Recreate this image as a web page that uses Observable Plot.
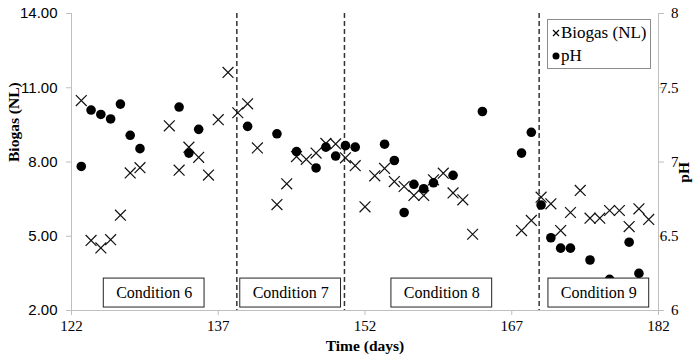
<!DOCTYPE html>
<html>
<head>
<meta charset="utf-8">
<script src="https://cdn.jsdelivr.net/npm/d3@7"></script>
<script src="https://cdn.jsdelivr.net/npm/@observablehq/plot@0.6"></script>
<style>
  body { margin: 0; background: #fff; }
  #wrap { position: relative; width: 694px; height: 357px; }
  .legend {
    position: absolute; left: 547px; top: 19px; width: 102px; height: 48px;
    border: 1px solid #8c8c8c; background: #fff;
    font-family: "Liberation Serif", "Times New Roman", serif; font-size: 17px; color: #000;
  }
  .legend .row { position: absolute; left: 4px; height: 18px; display: flex; align-items: center; gap: 1px; white-space: nowrap; }
</style>
</head>
<body>
<div id="wrap">
  <div class="legend">
    <div class="row" style="top:4px"><svg width="8" height="8"><path d="M1,1L7,7M7,1L1,7" stroke="#000" stroke-width="1.2" fill="none"/></svg><span>Biogas (NL)</span></div>
    <div class="row" style="top:27px"><svg width="8" height="8"><circle cx="4" cy="4" r="3.5" fill="#000"/></svg><span>pH</span></div>
  </div>
</div>
<script>
// Daily biogas volume (NL)
const biogasDays = [123,124,125,126,127,128,129,132,133,134,135,136,137,138,139,140,141,143,144,145,146,147,148,149,150,151,152,153,154,155,156,157,158,159,160,161,162,163,168,169,170,171,172,173,174,175,176,177,178,179,180,181];
const biogasNL   = [10.48,4.83,4.53,4.86,5.85,7.56,7.77,9.46,7.67,8.60,8.19,7.47,9.71,11.62,9.99,10.35,8.57,6.28,7.12,8.22,8.11,8.36,8.75,8.73,8.17,7.85,6.19,7.44,7.74,7.21,7.01,6.65,6.65,7.28,7.55,6.75,6.47,5.08,5.23,5.64,6.58,6.31,5.23,5.96,6.85,5.73,5.73,6.04,6.04,5.39,6.11,5.68];

// Reactor pH
const phDays   = [123,124,125,126,127,128,129,133,134,135,140,143,145,147,148,149,150,151,154,155,156,157,158,159,161,164,168,169,170,171,172,173,175,177,179,180];
const phValues = [6.97,7.35,7.32,7.29,7.39,7.18,7.09,7.37,7.06,7.22,7.24,7.19,7.07,6.96,7.10,7.04,7.11,7.10,7.12,7.01,6.66,6.85,6.82,6.86,6.91,7.34,7.06,7.20,6.71,6.49,6.42,6.42,6.34,6.21,6.46,6.25];

// Operating conditions and the days they change
const conditionNames  = ["Condition 6", "Condition 7", "Condition 8", "Condition 9"];
const conditionBreaks = [138.9, 149.9, 169.8];

const dayTicks    = [122, 137, 152, 167, 182];
const biogasTicks = [2, 5, 8, 11, 14];

// pH (6–8) is drawn on the biogas scale (2–14)
const phToY = ph => 2 + (ph - 6) * 6;
const yToPh = y => 6 + (y - 2) / 6;

const bounds = [122, ...conditionBreaks, 182];
const conditions = conditionNames.map((name, i) => ({ name, mid: (bounds[i] + bounds[i + 1]) / 2 }));
const biogas = biogasDays.map((day, i) => ({ day, value: biogasNL[i] }));
const ph = phDays.map((day, i) => ({ day, value: phValues[i] }));

const serif = "'Liberation Serif', 'Times New Roman', serif";
const sans = "'Liberation Sans', Arial, sans-serif";
const axisGray = "#bfbfbf";

const chart = Plot.plot({
  width: 694,
  height: 357,
  marginLeft: 71,
  marginRight: 36,
  marginTop: 13,
  marginBottom: 47,
  x: { domain: [122, 182] },
  y: { domain: [2, 14] },
  style: { background: "white", color: "black", overflow: "visible" },
  marks: [
    Plot.ruleX([122, 182], { stroke: axisGray }),
    Plot.ruleY([2], { stroke: axisGray }),
    Plot.axisY({ anchor: "left", ticks: biogasTicks, tickFormat: d3.format(".2f"), tickSize: 5, tickPadding: 9,
      stroke: axisGray, fill: "black", fontFamily: sans, fontSize: 15, label: null }),
    Plot.axisY({ anchor: "right", ticks: biogasTicks, tickFormat: d => d3.format("~g")(yToPh(d)), tickSize: 5, tickPadding: 15,
      textAnchor: "end", stroke: axisGray, fill: "black", fontFamily: serif, fontSize: 15, label: null }),
    Plot.axisX({ anchor: "bottom", ticks: dayTicks, tickSize: 5, tickPadding: 5,
      stroke: axisGray, fill: "black", fontFamily: serif, fontSize: 15, label: null }),
    Plot.ruleX(conditionBreaks, { stroke: "#333", strokeWidth: 1.5, strokeDasharray: "5,3" }),
    Plot.dot(biogas, { x: "day", y: "value", symbol: "times", r: 5, stroke: "#111", strokeWidth: 1.2 }),
    Plot.dot(ph, { x: "day", y: d => phToY(d.value), r: 4.8, fill: "#000", stroke: "none" }),
    Plot.rect(conditions, { x1: d => d.mid - 5.15, x2: d => d.mid + 5.15, y1: 2.12, y2: 3.29, fill: "white", stroke: "#222" }),
    Plot.text(conditions, { x: "mid", y: 2.705, text: "name", fontFamily: serif, fontSize: 16, fill: "black" }),
    Plot.text(["Biogas (NL)"], { text: d => d, frameAnchor: "left", dx: -57, rotate: -90,
      fontFamily: serif, fontWeight: "bold", fontSize: 15.5, fill: "black" }),
    Plot.text(["pH"], { text: d => d, frameAnchor: "right", dx: 26, rotate: -90,
      fontFamily: serif, fontWeight: "bold", fontSize: 15.5, fill: "black" }),
    Plot.text(["Time (days)"], { text: d => d, frameAnchor: "bottom", dy: 40,
      fontFamily: serif, fontWeight: "bold", fontSize: 15.5, fill: "black" })
  ]
});

document.getElementById("wrap").prepend(chart);
</script>
</body>
</html>
